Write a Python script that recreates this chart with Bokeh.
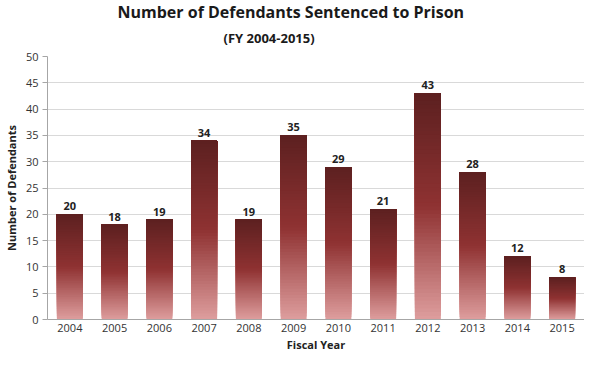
from bokeh.plotting import figure
from bokeh.models import ColumnDataSource, Title, SingleIntervalTicker, LabelSet
from bokeh.core.properties import value
from bokeh.embed import file_html
from bokeh.resources import INLINE

years = ["2004", "2005", "2006", "2007", "2008", "2009", "2010", "2011", "2012", "2013", "2014", "2015"]
defendants = [20, 18, 19, 34, 19, 35, 29, 21, 43, 28, 12, 8]
title_text = "Number of Defendants Sentenced to Prison"
subtitle_text = "(FY 2004-2015)"

# gradient stops (fraction from bottom -> color)
stops = [(0.0, (222, 158, 158)), (0.5, (143, 50, 50)), (1.0, (92, 32, 32))]

def grad(t):
    for (t0, c0), (t1, c1) in zip(stops[:-1], stops[1:]):
        if t0 <= t <= t1:
            f = (t - t0) / (t1 - t0)
            c = [round(a + (b - a) * f) for a, b in zip(c0, c1)]
            return "#%02x%02x%02x" % tuple(c)
    return "#%02x%02x%02x" % stops[-1][1]

N = 60
xs, bots, tops, cols = [], [], [], []
for i in range(N):
    for y, v in zip(years, defendants):
        xs.append(y)
        bots.append(v * i / N)
        tops.append(v)
        cols.append(grad((i + 0.5) / N))
seg = ColumnDataSource(dict(x=xs, bottom=bots, top=tops, color=cols))
lab = ColumnDataSource(dict(x=years, y=defendants, t=[str(v) for v in defendants]))

FONT = "Open Sans"

p = figure(x_range=years, y_range=(0, 50), width=584, height=354,
           output_backend="svg", toolbar_location=None,
           min_border_left=0, min_border_right=0, min_border_top=4, min_border_bottom=0)

p.add_layout(Title(text=subtitle_text, text_font=FONT, text_font_size="13px",
                   text_font_style="bold", text_color="#1a1a1a", align="left", offset=176,
                   standoff=15, vertical_align="top"), "above")
p.add_layout(Title(text=title_text, text_font=FONT,
                   text_font_size="16px", text_font_style="bold", text_color="#1a1a1a",
                   align="left", offset=70, standoff=-3), "above")

p.vbar(x="x", bottom="bottom", top="top", width=0.58, fill_color="color",
       line_color=None, source=seg)

p.add_layout(LabelSet(x="x", y="y", text="t", source=lab, text_align="center",
                      text_baseline="bottom", y_offset=4, text_font_size="11px",
                      text_font_style="bold", text_color="#222222", text_font=value(FONT)))

p.outline_line_color = None
p.xgrid.grid_line_color = None
p.ygrid.grid_line_color = "#d9d9d9"
p.ygrid.grid_line_width = 1
p.yaxis.ticker = SingleIntervalTicker(interval=5)
p.yaxis.minor_tick_line_color = None
p.yaxis.major_tick_in = 0
p.yaxis.major_tick_out = 5
for ax in (p.xaxis, p.yaxis):
    ax.axis_line_color = "#a6a6a6"
    ax.major_label_text_font = FONT
    ax.major_label_text_font_size = "11px"
    ax.major_label_text_color = "#333333"
    ax.axis_label_text_font = FONT
    ax.axis_label_text_font_size = "11px"
    ax.axis_label_text_font_style = "bold"
    ax.axis_label_text_color = "#222222"
p.yaxis.major_tick_line_color = "#a6a6a6"
p.xaxis.major_tick_line_color = None
p.xaxis.major_tick_out = 0
p.xaxis.major_tick_in = 0
p.yaxis.axis_label = "Number of Defendants"
p.xaxis.axis_label = "Fiscal Year"
p.yaxis.axis_label_standoff = 4
p.xaxis.axis_label_standoff = 2
p.xaxis.major_label_standoff = 4
p.yaxis.major_label_standoff = 4

open("out.html", "w").write(file_html(p, INLINE))
